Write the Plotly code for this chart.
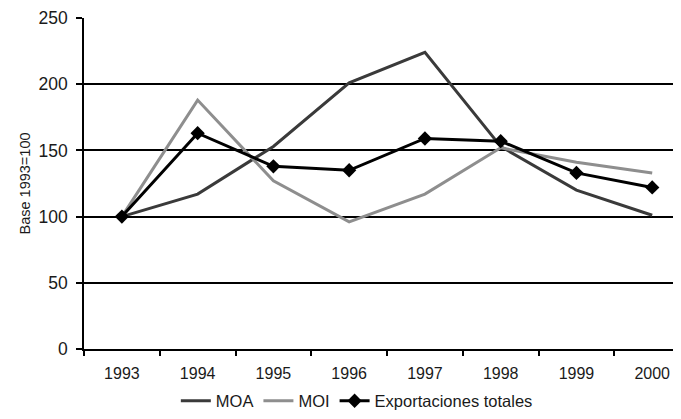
import plotly.graph_objects as go

# Exportaciones argentinas, índice base 1993=100
years = ["1993", "1994", "1995", "1996", "1997", "1998", "1999", "2000"]
moa = [100, 117, 153, 201, 224, 153, 120, 101]
moi = [100, 188, 127, 96, 117, 152, 141, 133]
totales = [100, 163, 138, 135, 159, 157, 133, 122]

font_family = "Liberation Sans, Arial, sans-serif"
text_color = "#1a1a1a"

fig = go.Figure()
fig.add_trace(go.Scatter(
    x=years, y=moa, name="MOA", mode="lines",
    line=dict(color="#3a3a3a", width=3),
))
fig.add_trace(go.Scatter(
    x=years, y=moi, name="MOI", mode="lines",
    line=dict(color="#8e8e8e", width=3),
))
fig.add_trace(go.Scatter(
    x=years, y=totales, name="Exportaciones totales", mode="lines+markers",
    line=dict(color="#000000", width=3),
    marker=dict(symbol="diamond", size=11, color="#000000"),
))

# the page body adds an 8px margin, so the figure is sized to fit after it
fig.update_layout(
    width=673, height=411,
    margin=dict(l=76, r=0, t=10, b=70),
    paper_bgcolor="white", plot_bgcolor="white",
    font=dict(family=font_family, color=text_color, size=16),
    showlegend=True,
    legend=dict(
        orientation="h", x=0.457, xanchor="center", y=-0.21, yanchor="bottom",
        font=dict(size=16.5), itemwidth=30, tracegroupgap=0,
    ),
)

fig.update_xaxes(
    type="category", range=[-0.5, 7.38], automargin=False,
    showline=True, linecolor="black", linewidth=1.5,
    ticks="outside", ticklen=5, tickcolor="black", tickwidth=1.5,
    tickson="boundaries", showgrid=False,
    tickfont=dict(size=16), ticklabelstandoff=9,
)
fig.update_yaxes(
    range=[0, 250], tickvals=[0, 50, 100, 150, 200, 250], automargin=False,
    showline=True, linecolor="black", linewidth=1.5,
    ticks="outside", ticklen=6, tickcolor="black", tickwidth=1.5,
    showgrid=True, gridcolor="black", gridwidth=1.5,
    zeroline=False, ticklabeloverflow="allow",
    tickfont=dict(size=17.5), ticklabelstandoff=5,
    title=dict(text="Base 1993=100", font=dict(size=14.5), standoff=4),
)

fig.write_html("out.html")
